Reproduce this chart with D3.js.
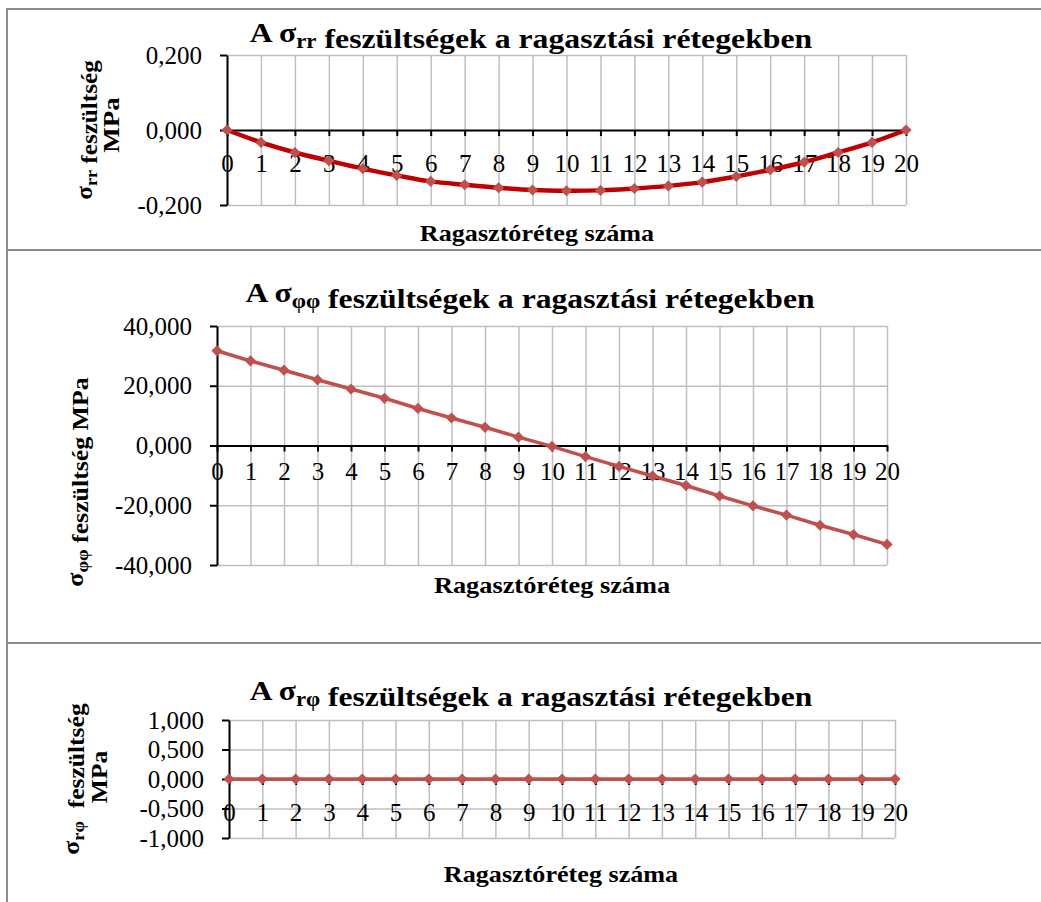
<!DOCTYPE html>
<html>
<head>
<meta charset="utf-8">
<script src="https://cdn.jsdelivr.net/npm/d3@7"></script>
<style>
  body { margin: 0; background: #fff; }
  svg { display: block; font-family: "Liberation Serif", "Times New Roman", serif; }
  .grid line { stroke: #bfbfbf; stroke-width: 1.5; }
  .grid .domain { display: none; }
  .axis path, .axis line { stroke: #000; stroke-width: 2; }
  .axis text { font-size: 25px; fill: #000; font-family: "Liberation Serif", "Times New Roman", serif; }
  .title { font-size: 28px; font-weight: bold; }
  .axis-label { font-size: 23px; font-weight: bold; }
</style>
</head>
<body>
<svg id="chart" width="1041" height="902"></svg>
<script>
const layers = d3.range(0, 21);
const srrValues = [0, -0.033, -0.060, -0.082, -0.103, -0.121, -0.137, -0.146, -0.154, -0.160, -0.162,
                   -0.161, -0.156, -0.149, -0.139, -0.124, -0.106, -0.086, -0.060, -0.033, 0];
const sffValues = [31.7, 28.3, 25.2, 22.0, 18.9, 15.8, 12.4, 9.2, 6.1, 2.8, -0.3,
                   -3.7, -7.0, -10.2, -13.4, -16.9, -20.2, -23.3, -26.7, -29.8, -33.1];
const srfValues = [0, 0, 0, 0, 0, 0, 0, 0, 0, 0, 0, 0, 0, 0, 0, 0, 0, 0, 0, 0, 0];
const srrTicks = [-0.2, 0, 0.2];
const sffTicks = [-40, -20, 0, 20, 40];
const srfTicks = [-1, -0.5, 0, 0.5, 1];
const xTitle = "Ragasztóréteg száma";

const huFormat = d3.formatLocale({ decimal: ",", thousands: " ", grouping: [3], currency: ["", ""], minus: "-" })
  .format(",.3f");

const svg = d3.select('#chart');

// keret
const frame = svg.append('g').attr('stroke', '#8c8c8c').attr('stroke-width', 2);
frame.append('line').attr('x1', 7).attr('x2', 7).attr('y1', 8).attr('y2', 902);
[9, 250, 643].forEach(y => {
  frame.append('line').attr('x1', 6).attr('x2', 1041).attr('y1', y).attr('y2', y);
});

const addSubText = (sel, parts) => {
  parts.forEach(p => {
    if (p.sub) {
      sel.append('tspan').attr('dy', '0.3em').attr('font-size', '0.72em').text(p.sub);
      sel.append('tspan').attr('dy', '-0.22em').text('');
    } else {
      sel.append('tspan').text(p.t);
    }
  });
};

// a szoveget vizszintesen a megadott szelessegre nyujtja
const stretchText = (sel, x, y, width, rotate) => {
  const w = sel.node().getBBox().width;
  const k = width / w;
  sel.attr('transform', `translate(${x},${y})${rotate ? ' rotate(-90)' : ''} scale(${k},1)`);
};

const drawPanel = (o) => {
  const g = svg.append('g');
  const x = d3.scaleLinear().domain([0, 20]).range([o.left, o.right]);
  const y = d3.scaleLinear().domain(d3.extent(o.ticks)).range([o.bottom, o.top]);

  // racsvonalak
  g.append('g').attr('class', 'grid')
    .attr('transform', `translate(0,${o.bottom})`)
    .call(d3.axisBottom(x).tickValues(layers).tickSize(o.bottom - o.top).tickSizeOuter(0).tickFormat(''))
    .selectAll('line').attr('transform', `translate(0,${-(o.bottom - o.top)})`);
  g.append('g').attr('class', 'grid')
    .attr('transform', `translate(${o.left},0)`)
    .call(d3.axisRight(y).tickValues(o.ticks.filter(t => t !== 0)).tickSize(o.right - o.left).tickFormat(''));

  // tengelyek
  g.append('g').attr('class', 'axis')
    .attr('transform', `translate(0,${y(0)})`)
    .call(d3.axisBottom(x).tickValues(layers).tickSize(6).tickSizeOuter(0).tickPadding(o.xPad).tickFormat(d3.format('d')));
  g.append('g').attr('class', 'axis')
    .attr('transform', `translate(${o.left},0)`)
    .call(d3.axisLeft(y).tickValues(o.ticks).tickSize(7).tickSizeOuter(0).tickPadding(18).tickFormat(huFormat));

  // adatsor
  const line = d3.line().x((d, i) => x(layers[i])).y(d => y(d)).curve(o.curve);
  g.append('path').datum(o.values)
    .attr('fill', 'none').attr('stroke', o.lineColor).attr('stroke-width', o.lineWidth)
    .attr('stroke-linejoin', 'round')
    .attr('d', line);
  g.selectAll('.marker').data(o.values).enter().append('path')
    .attr('class', 'marker')
    .attr('d', d3.symbol(d3.symbolDiamond2, 80)())
    .attr('transform', (d, i) => `translate(${x(layers[i])},${y(d)})`)
    .attr('fill', '#c0504d');

  // cimek
  const t = g.append('text').attr('class', 'title').attr('text-anchor', 'middle');
  addSubText(t, [{ t: 'A σ' }, { sub: o.sub }, { t: ' feszültségek a ragasztási rétegekben' }]);
  stretchText(t, o.title.x, o.title.y, o.title.w, false);

  const xt = g.append('text').attr('class', 'axis-label').attr('text-anchor', 'middle').text(xTitle);
  stretchText(xt, o.xTitle.x, o.xTitle.y, o.xTitle.w, false);

  o.yLines.forEach(l => {
    const yl = g.append('text').attr('class', 'axis-label').attr('text-anchor', 'middle');
    addSubText(yl, l.parts);
    stretchText(yl, l.x, l.y, l.w, true);
  });
};

drawPanel({
  values: srrValues, ticks: srrTicks, sub: 'rr',
  left: 227, right: 906, top: 55, bottom: 205, xPad: 18,
  curve: d3.curveCatmullRom, lineColor: '#c00000', lineWidth: 4.5,
  title: { x: 531, y: 42, w: 563 }, xTitle: { x: 537, y: 241, w: 235 },
  yLines: [
    { x: 92, y: 130, w: 140, parts: [{ t: 'σ' }, { sub: 'rr' }, { t: ' feszültség' }] },
    { x: 119, y: 125, w: 56, parts: [{ t: 'MPa' }] }
  ]
});

drawPanel({
  values: sffValues, ticks: sffTicks, sub: 'φφ',
  left: 217, right: 887, top: 326, bottom: 565, xPad: 11,
  curve: d3.curveLinear, lineColor: '#c0504d', lineWidth: 3.5,
  title: { x: 530, y: 302, w: 570 }, xTitle: { x: 552, y: 593, w: 237 },
  yLines: [
    { x: 83, y: 482, w: 210, parts: [{ t: 'σ' }, { sub: 'φφ' }, { t: ' feszültség MPa' }] }
  ]
});

drawPanel({
  values: srfValues, ticks: srfTicks, sub: 'rφ',
  left: 229, right: 895, top: 720, bottom: 838, xPad: 18,
  curve: d3.curveLinear, lineColor: '#c0504d', lineWidth: 3.5,
  title: { x: 531, y: 700, w: 563 }, xTitle: { x: 561, y: 882, w: 235 },
  yLines: [
    { x: 79, y: 779, w: 152, parts: [{ t: 'σ' }, { sub: 'rφ' }, { t: '\u00a0\u00a0feszültség' }] },
    { x: 107, y: 777, w: 53, parts: [{ t: 'MPa' }] }
  ]
});
</script>
</body>
</html>
